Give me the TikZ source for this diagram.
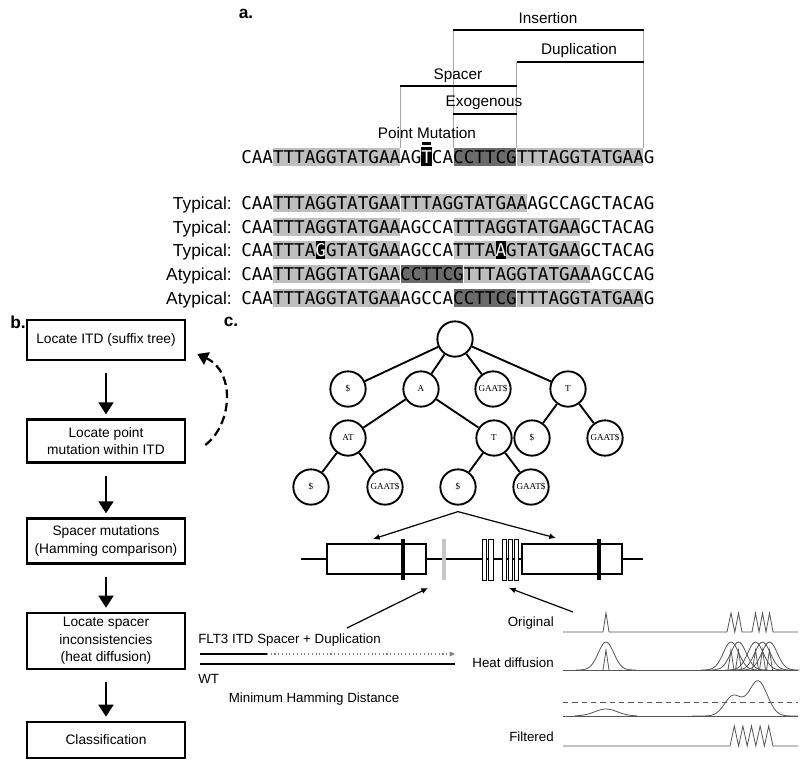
\documentclass[tikz,border=0pt]{standalone}
\usepackage{fontspec}
\setmainfont{Liberation Sans}
\newfontfamily\seqfont{DejaVu Sans Mono}
\newfontfamily\treefont{Liberation Serif}
\usetikzlibrary{arrows.meta,calc}

\definecolor{seqlight}{HTML}{BEBEBE}
\definecolor{seqdark}{HTML}{6B6B6B}
\definecolor{tracegray}{HTML}{555555}

\newcommand{\basew}{10.6}
\newcommand{\seqbox}[4]{\fill[#4] ({241+#1*\basew+0.5},{#3-9}) rectangle ({241+(#2+1)*\basew-0.5},{#3+9});}

\tikzset{
  seq/.style={font=\seqfont\fontsize{13.2}{14}\selectfont, anchor=base west, inner sep=0pt},
  rowlabel/.style={font=\fontsize{13}{14}\selectfont, anchor=base east, inner sep=0pt},
  brlabel/.style={font=\fontsize{11.5}{12}\selectfont, anchor=base, inner sep=0pt},
  panel/.style={font=\bfseries\fontsize{13}{14}\selectfont, inner sep=0pt},
  small/.style={font=\fontsize{10}{12}\selectfont, inner sep=0pt},
  flowbox/.style={draw, line width=1.9pt, minimum width=118.5pt, minimum height=30pt,
    align=center, font=\fontsize{10.3}{13}\selectfont, inner sep=2pt},
  flowarrow/.style={line width=1.9pt, -{Triangle[length=9pt,width=11pt]}, shorten <=9pt, shorten >=3pt},
  tnode/.style={circle, draw, line width=1.4pt, minimum size=26.5pt, inner sep=0pt,
    font=\treefont\fontsize{6.8}{8}\selectfont},
  tedge/.style={line width=1.4pt},
  thinarrow/.style={line width=0.9pt, -{Latex[length=5pt,width=4.5pt]}},
  bracket/.style={line width=0.9pt},
  guide/.style={gray!70, line width=0.6pt},
  tracepen/.style={tracegray, line width=0.6pt}
}

\begin{document}
\begin{tikzpicture}[x=0.75pt,y=-0.75pt]
\useasboundingbox (0,0) rectangle (800,761);

\node[panel] (pa) at (246,14) {a.};
\node[panel] (pb) at (18,322) {b.};
\node[panel] (pc) at (231,322) {c.};

% panel a: brackets
\draw[guide] ({241+15*\basew},86) -- ({241+15*\basew},148);
\draw[guide] ({241+20*\basew},30) -- ({241+20*\basew},148);
\draw[guide] ({241+26*\basew},62) -- ({241+26*\basew},148);
\draw[guide] ({241+38*\basew},30) -- ({241+38*\basew},148);
\draw[bracket] ({241+20*\basew},30) -- ({241+38*\basew},30);
\draw[bracket] ({241+26*\basew},62) -- ({241+38*\basew},62);
\draw[bracket] ({241+15*\basew},86) -- ({241+26*\basew},86);
\draw[bracket] ({241+20*\basew},114) -- ({241+26*\basew},114);
\node[brlabel] (ins) at (548,23.5) {Insertion};
\node[brlabel] (dup) at (579,54.5) {Duplication};
\node[brlabel] (spc) at (458,79.5) {Spacer};
\node[brlabel] (exo) at (484,106.5) {Exogenous};
\node[brlabel] (pmu) at (427,138.5) {Point Mutation};

% panel a: reads
\seqbox{3}{14}{157}{seqlight}
\seqbox{20}{25}{157}{seqdark}
\seqbox{26}{37}{157}{seqlight}
\fill[black] ({241+17*\basew},147) rectangle ({241+18*\basew},166);
\fill[black] ({241+17*\basew+0.5},142) rectangle ({241+18*\basew-0.5},145);
\node[seq] (seqtop) at (241,163.3) {CAATTTAGGTATGAAAG\textcolor{white}{T}CACCTTCGTTTAGGTATGAAG};

\seqbox{3}{14}{203}{seqlight}
\seqbox{15}{26}{203}{seqlight}
\node[rowlabel] (laba) at (232,209.3) {Typical:};
\node[seq] (seqa) at (241,209.3) {CAATTTAGGTATGAATTTAGGTATGAAAGCCAGCTACAG};

\seqbox{3}{14}{227}{seqlight}
\seqbox{20}{31}{227}{seqlight}
\node[rowlabel] (labb) at (232,233.3) {Typical:};
\node[seq] (seqb) at (241,233.3) {CAATTTAGGTATGAAAGCCATTTAGGTATGAAGCTACAG};

\seqbox{3}{14}{250}{seqlight}
\seqbox{20}{31}{250}{seqlight}
\seqbox{7}{7}{250}{black}
\seqbox{24}{24}{250}{black}
\node[rowlabel] (labc) at (232,256.3) {Typical:};
\node[seq] (seqc) at (241,256.3) {CAATTTA\textcolor{white}{G}GTATGAAAGCCATTTA\textcolor{white}{A}GTATGAAGCTACAG};

\seqbox{3}{14}{274}{seqlight}
\seqbox{15}{20}{274}{seqdark}
\seqbox{21}{32}{274}{seqlight}
\node[rowlabel] (labd) at (232,280.3) {Atypical:};
\node[seq] (seqd) at (241,280.3) {CAATTTAGGTATGAACCTTCGTTTAGGTATGAAAGCCAG};

\seqbox{3}{14}{298}{seqlight}
\seqbox{20}{25}{298}{seqdark}
\seqbox{26}{37}{298}{seqlight}
\node[rowlabel] (labe) at (232,304.3) {Atypical:};
\node[seq] (seqe) at (241,304.3) {CAATTTAGGTATGAAAGCCACCTTCGTTTAGGTATGAAG};

% panel b
\node[flowbox] (itd) at (106,340) {Locate ITD (suffix tree)};
\node[flowbox, minimum height=32pt] (pm) at (106,441) {Locate point\\mutation within ITD};
\node[flowbox, minimum height=33.5pt] (sp) at (106,541) {Spacer mutations\\(Hamming comparison)};
\node[flowbox, minimum height=42pt] (inc) at (106,641) {Locate spacer\\inconsistencies\\(heat diffusion)};
\node[flowbox, minimum height=27pt] (cls) at (106,740) {Classification};
\draw[flowarrow] (itd) -- (pm);
\draw[flowarrow] (pm) -- (sp);
\draw[flowarrow] (sp) -- (inc);
\draw[flowarrow] (inc) -- (cls);
\coordinate (loopa) at ($(pm.east)+(19,4)$);
\coordinate (loopb) at ($(itd.east)+(11,14)$);
\draw[line width=1.7pt, dash pattern=on 6.5pt off 3.5pt, -{Triangle[length=8pt,width=10pt]}]
  (loopa) .. controls (232,425) and (236,372) .. (loopb);

% panel c: suffix tree
\node[tnode] (root) at (455,339) {};
\node[tnode] (t1) at (348,389) {\$};
\node[tnode] (ta) at (421,389) {A};
\node[tnode] (tg) at (493,389) {GAAT\$};
\node[tnode] (tt) at (568,389) {T};
\node[tnode] (tat) at (348,438) {AT};
\node[tnode] (tat2) at (494,438) {T};
\node[tnode] (tt1) at (532,438) {\$};
\node[tnode] (tt2) at (605,438) {GAAT\$};
\node[tnode] (tx1) at (311,487) {\$};
\node[tnode] (tx2) at (385,487) {GAAT\$};
\node[tnode] (ty1) at (458,487) {\$};
\node[tnode] (ty2) at (531,487) {GAAT\$};
\draw[tedge] (root) -- (t1);
\draw[tedge] (root) -- (ta);
\draw[tedge] (root) -- (tg);
\draw[tedge] (root) -- (tt);
\draw[tedge] (ta) -- (tat);
\draw[tedge] (ta) -- (tat2);
\draw[tedge] (tt) -- (tt1);
\draw[tedge] (tt) -- (tt2);
\draw[tedge] (tat) -- (tx1);
\draw[tedge] (tat) -- (tx2);
\draw[tedge] (tat2) -- (ty1);
\draw[tedge] (tat2) -- (ty2);

% gene
\coordinate (split) at ($(ty1.south)+(0,6)$);
\coordinate (exonl) at (373,539);
\coordinate (exonr) at (556,538);
\draw[thinarrow] (split) -- (exonl);
\draw[thinarrow] (split) -- (exonr);
\draw[line width=1.9pt] (301,559) -- (643,559);
\draw[fill=white, line width=0.8pt] (327,544) rectangle (426,574);
\draw[fill=white, line width=0.8pt] (522,544) rectangle (622,574);
\draw[line width=3pt] (403,539) -- (403,580);
\draw[line width=3pt] (599,539) -- (599,580);
\draw[gray!45, line width=2.4pt] (444,539) -- (444,580);
\foreach \x in {482,488.5,502,508,514}
  \draw[fill=white, line width=0.7pt] (\x,539) rectangle ({\x+4.5},580);

\coordinate (spfrom) at (347,628);
\coordinate (spto) at (428,588);
\coordinate (orfrom) at (573,612);
\coordinate (orto) at (509,588);
\draw[thinarrow] (spfrom) -- (spto);
\draw[thinarrow] (orfrom) -- (orto);

% hamming
\node[small, anchor=west] (flt) at (198,640) {FLT3 ITD Spacer + Duplication};
\draw[line width=1.9pt] (200,654) -- (267,654);
\draw[gray, dotted, line width=0.8pt, -{Triangle[length=4pt,width=3.5pt]}] (267,654) -- (455,654);
\draw[line width=1.9pt] (200,664) -- (455,664);
\node[small, anchor=west] (wt) at (198,679) {WT};
\node[small] (mhd) at (314,699) {Minimum Hamming Distance};

% heat diffusion
\node[small, anchor=east] (orig) at (554,623) {Original};
\node[small, anchor=east] (heat) at (554,663) {Heat diffusion};
\node[small, anchor=east] (filt) at (554,737) {Filtered};

\draw[tracepen] (563,632) -- (603,632) -- (606,613) -- (609,632) -- (727,632) -- (731,613) -- (734.8,632)
  -- (738.5,613) -- (742,632) -- (752,632) -- (755.5,613) -- (759,632) -- (762.5,613) -- (766,632)
  -- (769.5,613) -- (773,632) -- (798,632);

\draw[tracepen] (563,670) -- (798,670);
\foreach \c in {606,731,738.5,755.5,762.5,769.5} {
  \pgfmathsetmacro{\lo}{\c-30}
  \pgfmathsetmacro{\hi}{\c+30}
  \draw[tracepen] plot[domain=\lo:\hi, samples=41, smooth] (\x,{670-28*exp(-(((\x-\c)/11)^2))});
  \draw[tracepen] ({\c-3},670) -- (\c,650) -- ({\c+3},670);
}

\draw[tracepen, dash pattern=on 4pt off 3pt] (563,702) -- (798,702);
\draw[tracepen] (563,716) -- (798,716);
\draw[tracepen] plot[domain=575:637, samples=41, smooth] (\x,{716-7*exp(-(((\x-606)/16)^2))});
\draw[tracepen] plot[domain=692:798, samples=90, smooth]
  (\x,{716-20*exp(max(-9,-(((\x-733)/12)^2)))-35*exp(max(-9,-(((\x-758)/13)^2)))});

\draw[tracepen] (563,746) -- (730,746) -- (734.3,726) -- (738.6,746) -- (742.9,726) -- (747.2,746)
  -- (751.5,726) -- (755.8,746) -- (760.1,726) -- (764.4,746) -- (768.7,726) -- (773,746) -- (798,746);

\end{tikzpicture}
\end{document}
